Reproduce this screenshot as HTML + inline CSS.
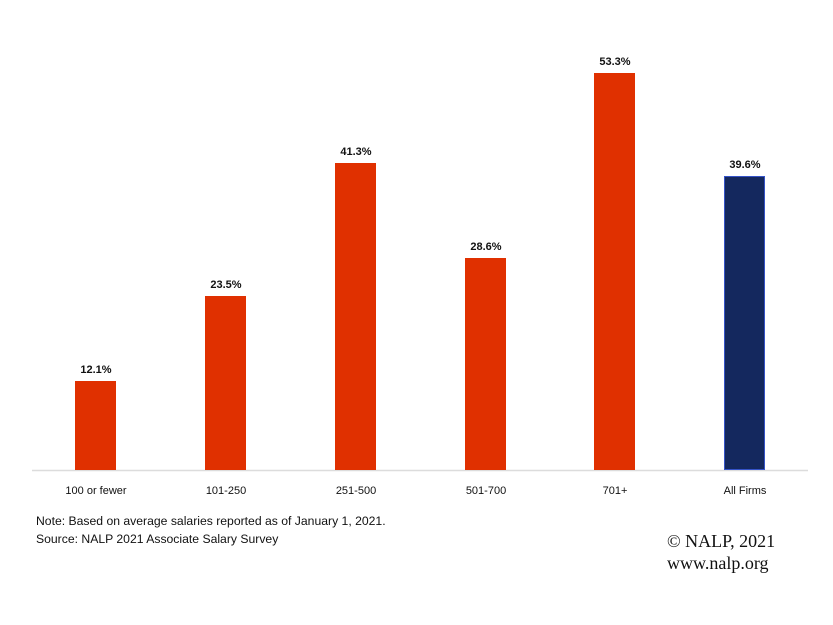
<!DOCTYPE html>
<html><head><meta charset="utf-8"><style>
html,body{margin:0;padding:0;background:#fff;}
svg{display:block;}
</style></head><body>
<svg width="833" height="625" xmlns="http://www.w3.org/2000/svg">
<rect width="833" height="625" fill="#fff"/>
<line x1="32" y1="470.5" x2="808" y2="470.5" stroke="#dcdcdc" stroke-width="1.5"/>
<g fill="#e03000">
<rect x="75" y="381" width="41" height="89"/>
<rect x="205" y="296" width="41" height="174"/>
<rect x="335" y="163" width="41" height="307"/>
<rect x="465" y="258" width="41" height="212"/>
<rect x="594" y="73" width="41" height="397"/>
</g>
<rect x="724.5" y="176.5" width="40" height="293" fill="#14285e" stroke="#3553c8" stroke-width="1"/>
<g font-family="Liberation Sans, sans-serif" font-size="11" fill="#111" text-anchor="middle">
<g font-weight="bold">
<text x="96" y="373">12.1%</text>
<text x="226" y="288">23.5%</text>
<text x="356" y="155">41.3%</text>
<text x="486" y="250">28.6%</text>
<text x="615" y="65">53.3%</text>
<text x="745" y="168">39.6%</text>
</g>
<text x="96" y="494">100 or fewer</text>
<text x="226" y="494">101-250</text>
<text x="356" y="494">251-500</text>
<text x="486" y="494">501-700</text>
<text x="615" y="494">701+</text>
<text x="745" y="494">All Firms</text>
</g>
<g font-family="Liberation Sans, sans-serif" font-size="12.2" fill="#111">
<text x="36" y="525">Note: Based on average salaries reported as of January 1, 2021.</text>
<text x="36" y="543">Source: NALP 2021 Associate Salary Survey</text>
</g>
<g font-family="Liberation Serif, serif" font-size="18" fill="#111">
<text x="667" y="547">© NALP, 2021</text>
<text x="667" y="569">www.nalp.org</text>
</g>
</svg>
</body></html>
